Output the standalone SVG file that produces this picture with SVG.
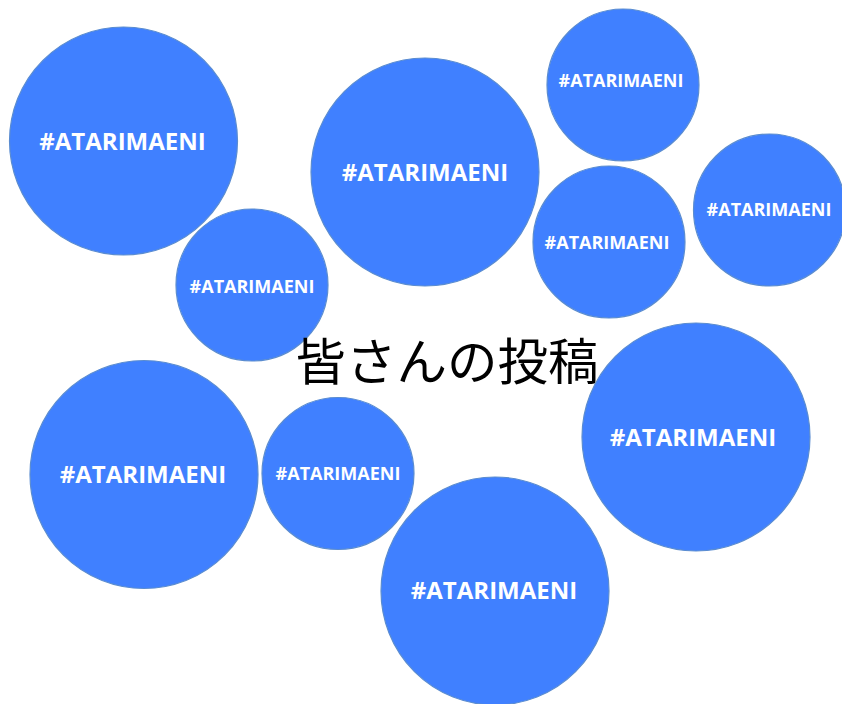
<svg xmlns="http://www.w3.org/2000/svg" width="842" height="704" viewBox="0 0 842 704">
<style>
.b{fill:#4080FF;stroke:#5A8CD0;stroke-width:1.2}
.t{fill:#FFFFFF;font-family:"Open Sans","Liberation Sans",sans-serif;font-weight:bold;text-anchor:middle}
.L{font-size:24px}
.S{font-size:18px}
.title{fill:#000000;font-family:"Noto Sans CJK JP","Noto Sans",sans-serif;font-size:50.5px;text-anchor:middle}
</style>
<rect width="842" height="704" fill="#FFFFFF"/>
<g id="b1"><circle class="b" cx="123.5" cy="141" r="114"/><text class="t L" x="122.5" y="150">#ATARIMAENI</text></g>
<g id="b2"><circle class="b" cx="252" cy="285" r="76"/><text class="t S" x="252" y="293">#ATARIMAENI</text></g>
<g id="b3"><circle class="b" cx="425" cy="172" r="114"/><text class="t L" x="425" y="181">#ATARIMAENI</text></g>
<g id="b4"><circle class="b" cx="623" cy="85" r="76"/><text class="t S" x="621" y="87">#ATARIMAENI</text></g>
<g id="b5"><circle class="b" cx="609" cy="242" r="76"/><text class="t S" x="607" y="249">#ATARIMAENI</text></g>
<g id="b6"><circle class="b" cx="769.5" cy="210" r="76"/><text class="t S" x="769" y="216">#ATARIMAENI</text></g>
<g id="b7"><circle class="b" cx="144" cy="474.5" r="114"/><text class="t L" x="143" y="483">#ATARIMAENI</text></g>
<g id="b8"><circle class="b" cx="338" cy="473.5" r="76"/><text class="t S" x="338" y="480">#ATARIMAENI</text></g>
<g id="b9"><circle class="b" cx="696" cy="437" r="114"/><text class="t L" x="693" y="446">#ATARIMAENI</text></g>
<g id="b10"><circle class="b" cx="495" cy="591" r="114"/><text class="t L" x="494" y="599">#ATARIMAENI</text></g>
<g id="title"><text class="title" x="447" y="380">皆さんの投稿</text></g>
<g id="connectors"></g>
</svg>
